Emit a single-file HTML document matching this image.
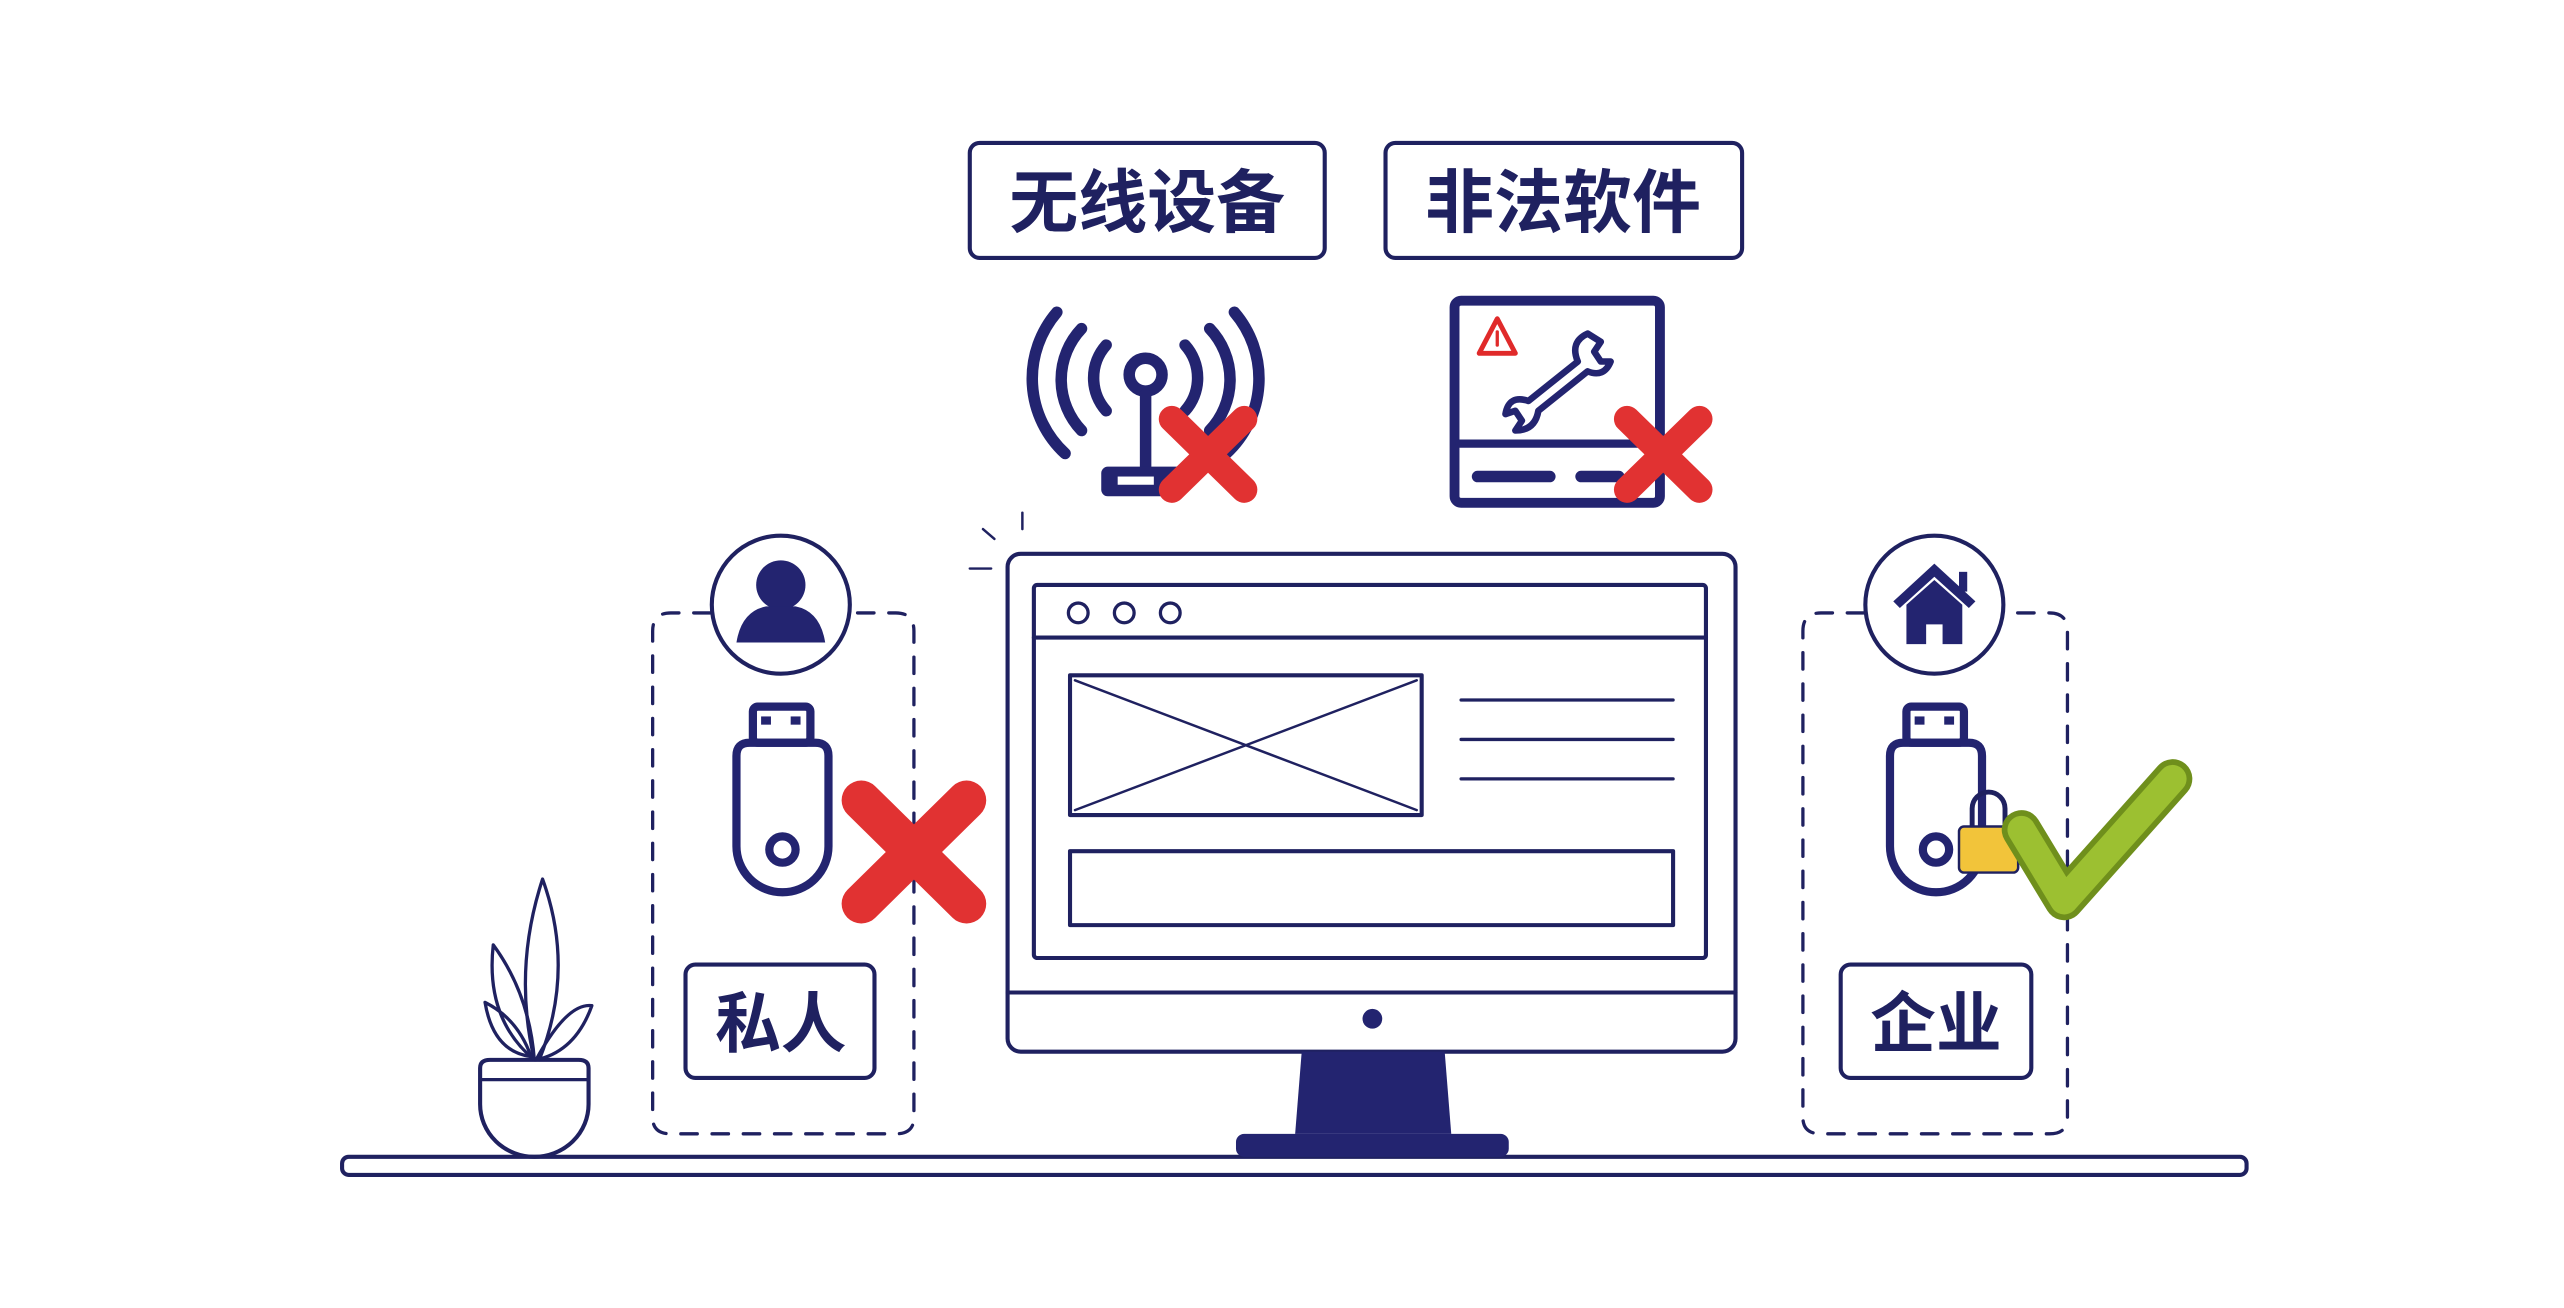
<!DOCTYPE html>
<html><head><meta charset="utf-8"><style>
html,body{margin:0;padding:0;background:#fff;}
svg{display:block;}
text{font-family:"Liberation Sans","Noto Sans CJK SC",sans-serif;fill:#1f2160;font-weight:bold;}
</style></head><body>
<svg width="2564" height="1308" viewBox="0 0 1560 796" xmlns="http://www.w3.org/2000/svg">
<rect width="1560" height="796" fill="#fff"/>
<g fill="none" stroke="#1f2160" stroke-linecap="round" stroke-linejoin="round">
<rect x="590" y="87" width="216" height="70" rx="6" stroke-width="2.5"/>
<rect x="843" y="87" width="217" height="70" rx="6" stroke-width="2.5"/>
<g stroke="#232470" stroke-width="7">
<path d="M673 210 A30 30 0 0 0 673 250"/>
<path d="M658 200 A45 45 0 0 0 658 262"/>
<path d="M643 190 A62 62 0 0 0 648 276"/>
<path d="M721 210 A30 30 0 0 1 721 250"/>
<path d="M736 200 A45 45 0 0 1 736 262"/>
<path d="M751 190 A62 62 0 0 1 746 276"/>
<circle cx="697" cy="228" r="10"/>
<line x1="697" y1="240" x2="697" y2="285"/>
</g>
<rect x="670" y="284" width="50" height="18" rx="4" fill="#232470" stroke="none"/>
<rect x="680" y="290" width="22" height="5" fill="#fff" stroke="none"/>
<rect x="885" y="183" width="125" height="123" rx="4" stroke="#232470" stroke-width="6"/>
<line x1="888" y1="270" x2="1008" y2="270" stroke="#232470" stroke-width="5"/>
<line x1="899" y1="290" x2="943" y2="290" stroke="#232470" stroke-width="7"/>
<line x1="962" y1="290" x2="985" y2="290" stroke="#232470" stroke-width="7"/>
<path d="M911 194 L900 215 L922 215 Z" stroke="#e02a2a" stroke-width="3"/>
<line x1="911" y1="202" x2="911" y2="210" stroke="#e02a2a" stroke-width="2"/>
<path d="M966 203 Q955 208 960 220 L930 244 Q918 240 916 252 L922 250 L926 256 L922 262 Q934 262 936 250 L966 226 Q976 230 980 220 L974 220 L970 214 L974 208 Z" stroke="#232470" stroke-width="4"/>
<rect x="613" y="337" width="443" height="303" rx="8" stroke-width="2.5"/>
<rect x="629" y="356" width="409" height="227" rx="2" stroke-width="2.5"/>
<line x1="629" y1="388" x2="1038" y2="388" stroke-width="2.5"/>
<line x1="613" y1="604" x2="1056" y2="604" stroke-width="2.5"/>
<circle cx="656" cy="373" r="6" stroke-width="2"/>
<circle cx="684" cy="373" r="6" stroke-width="2"/>
<circle cx="712" cy="373" r="6" stroke-width="2"/>
<rect x="651" y="411" width="214" height="85" stroke-width="2.5"/>
<line x1="654" y1="414" x2="862" y2="493" stroke-width="1.5"/>
<line x1="862" y1="414" x2="654" y2="493" stroke-width="1.5"/>
<line x1="889" y1="426" x2="1018" y2="426" stroke-width="2"/>
<line x1="889" y1="450" x2="1018" y2="450" stroke-width="2"/>
<line x1="889" y1="474" x2="1018" y2="474" stroke-width="2"/>
<rect x="651" y="518" width="367" height="45" stroke-width="2.5"/>
<line x1="598" y1="322" x2="605" y2="328" stroke-width="1.5"/>
<line x1="622" y1="312" x2="622" y2="322" stroke-width="1.5"/>
<line x1="590" y1="346" x2="603" y2="346" stroke-width="1.5"/>
<path d="M432 373 H408 Q397 373 397 384 V680 Q397 690 408 690 H545 Q556 690 556 680 V384 Q556 373 545 373 H518" stroke-width="2" stroke-dasharray="10 9"/>
<path d="M1134 373 H1108 Q1097 373 1097 384 V680 Q1097 690 1108 690 H1247 Q1258 690 1258 680 V384 Q1258 373 1247 373 H1220" stroke-width="2" stroke-dasharray="10 9"/>
<circle cx="475" cy="368" r="42" stroke-width="2.5"/>
<circle cx="1177" cy="368" r="42" stroke-width="2.5"/>
<g stroke="#232470" stroke-width="5">
<rect x="458" y="430" width="35" height="22" rx="3"/>
<path d="M448 460 Q448 452 456 452 H496 Q504 452 504 460 V515 A28 28 0 0 1 448 515 Z"/>
<circle cx="476" cy="517" r="8"/>
<rect x="1160" y="430" width="35" height="22" rx="3"/>
<path d="M1150 460 Q1150 452 1158 452 H1198 Q1206 452 1206 460 V515 A28 28 0 0 1 1150 515 Z"/>
<circle cx="1178" cy="517" r="8"/>
</g>
<rect x="417" y="587" width="115" height="69" rx="6" stroke-width="2.5"/>
<rect x="1120" y="587" width="116" height="69" rx="6" stroke-width="2.5"/>
<path d="M292 650 Q292 645 298 645 H352 Q358 645 358 650 V672 A33 32 0 0 1 292 672 Z" stroke-width="2.5"/>
<line x1="292" y1="657" x2="358" y2="657" stroke-width="2"/>
<path d="M325 645 Q312 590 330 535 Q350 590 328 645" stroke-width="2"/>
<path d="M325 645 Q295 620 300 575 Q322 605 325 645" stroke-width="2"/>
<path d="M326 645 Q345 610 360 612 Q350 640 326 645" stroke-width="2"/>
<path d="M323 643 Q300 640 295 610 Q315 620 323 643" stroke-width="2"/>
<rect x="208" y="704" width="1159" height="11" rx="4" stroke-width="2.5"/>
</g>
<g fill="#232470">
<circle cx="475" cy="356" r="15"/>
<path d="M448 391 Q451 372 466 369 H484 Q499 372 502 391 Z"/>
<path d="M1152 366 L1177 343 L1202 366 L1198 370 L1177 351 L1156 370 Z"/>
<rect x="1192" y="348" width="5" height="12"/>
<path d="M1160 368 L1177 353 L1194 368 V392 H1182 V380 H1172 V392 H1160 Z"/>
<path d="M792 640 H879 L883 690 H788 Z"/>
<rect x="752" y="690" width="166" height="14" rx="5"/>
<circle cx="835" cy="620" r="6"/>
<rect x="463" y="436" width="6" height="5"/><rect x="481" y="436" width="6" height="5"/>
<rect x="1165" y="436" width="6" height="5"/><rect x="1183" y="436" width="6" height="5"/>
</g>
<g stroke="#e13232" stroke-linecap="round" fill="none">
<path d="M713 255 L757 298 M757 255 L713 298" stroke-width="16"/>
<path d="M990 255 L1034 298 M1034 255 L990 298" stroke-width="16"/>
<path d="M524 487 L588 550 M588 487 L524 550" stroke-width="24"/>
</g>
<path d="M1200 504 V492 A10 10 0 0 1 1220 492 V504" fill="none" stroke="#1f2160" stroke-width="3"/>
<rect x="1192" y="503" width="36" height="28" rx="3" fill="#f2c43a" stroke="#1f2160" stroke-width="1.5"/>
<polyline points="1230,505 1256,548 1322,474" fill="none" stroke="#6f8f1c" stroke-width="24" stroke-linecap="round" stroke-linejoin="round"/>
<polyline points="1230,505 1256,548 1322,474" fill="none" stroke="#9cc031" stroke-width="17" stroke-linecap="round" stroke-linejoin="round"/>
<text x="698" y="138" font-size="42" text-anchor="middle">无线设备</text>
<text x="951" y="138" font-size="42" text-anchor="middle">非法软件</text>
<text x="475" y="637" font-size="40" text-anchor="middle">私人</text>
<text x="1178" y="637" font-size="40" text-anchor="middle">企业</text>
</svg>
</body></html>
